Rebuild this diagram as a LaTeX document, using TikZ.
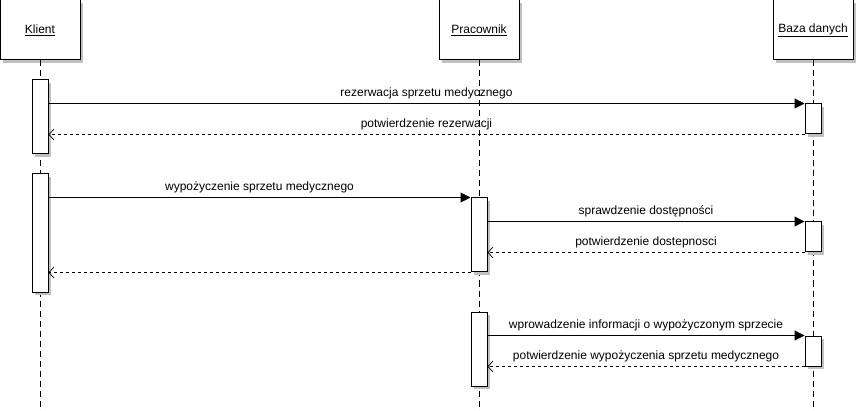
\documentclass[tikz,border=0pt]{standalone}
\usepackage{fontspec}
\setmainfont{Liberation Sans}
\usepackage{tikz}
\usetikzlibrary{arrows.meta, shadows, positioning}
\definecolor{shade}{RGB}{192, 192, 192}

\begin{document}
\begin{tikzpicture}[
    x=1pt, y=-1pt,
    head/.style={
      rectangle, draw=black, fill=white, line width=1pt,
      minimum width=80pt, minimum height=60pt,
      font=\fontsize{12pt}{14pt}\selectfont,
      drop shadow={shadow xshift=3pt, shadow yshift=-3pt, fill=shade, opacity=1}
    },
    act/.style={
      rectangle, draw=black, fill=white, line width=1pt,
      minimum width=16pt, inner sep=0pt,
      drop shadow={shadow xshift=3pt, shadow yshift=-3pt, fill=shade, opacity=1}
    },
    life/.style={dash pattern=on 6pt off 4pt, line width=1pt},
    msg/.style={-{Triangle[length=10pt, width=10pt]}, line width=1pt},
    ret/.style={-{Straight Barb[length=5pt, width=11pt, line width=0.7pt]},
      dash pattern=on 3pt off 3pt, line width=1pt},
    lbl/.style={font=\fontsize{12pt}{14pt}\selectfont, midway, above=1pt}
  ]

  \useasboundingbox (0,0) rectangle (858,411);

  % ── Participants ───────────────────────────────────────────────
  \node[head] (klient)    at (40,  30) {\underline{Klient}};
  \node[head] (pracownik) at (479, 30) {\underline{Pracownik}};
  \node[head] (baza)      at (813, 30) {\underline{Baza danych}};

  % ── Lifelines ──────────────────────────────────────────────────
  \coordinate (kend) at (40,  411);
  \coordinate (pend) at (479, 411);
  \coordinate (bend) at (813, 411);
  \draw[life] (klient.south)    -- (kend);
  \draw[life] (pracownik.south) -- (pend);
  \draw[life] (baza.south)      -- (bend);

  % ── Activations ────────────────────────────────────────────────
  \node[act, minimum height=74pt]  (kact1) at (40,  117) {};
  \node[act, minimum height=118pt] (kact2) at (40,  233) {};
  \node[act, minimum height=74pt]  (pact1) at (479, 235) {};
  \node[act, minimum height=74pt]  (pact2) at (479, 349) {};
  \node[act, minimum height=30pt]  (bact1) at (813, 119) {};
  \node[act, minimum height=30pt]  (bact2) at (813, 237) {};
  \node[act, minimum height=30pt]  (bact3) at (813, 351) {};

  % ── Reservation ────────────────────────────────────────────────
  \draw[msg] (kact1.east |- bact1.north west) -- (bact1.north west)
    node[lbl]{rezerwacja sprzetu medycznego};
  \draw[ret] (bact1.south west) -- (kact1.east |- bact1.south west)
    node[lbl]{potwierdzenie rezerwacji};

  % ── Lending ────────────────────────────────────────────────────
  \draw[msg] (kact2.east |- pact1.north west) -- (pact1.north west)
    node[lbl]{wypożyczenie sprzetu medycznego};
  \draw[msg] (pact1.east |- bact2.north west) -- (bact2.north west)
    node[lbl]{sprawdzenie dostępności};
  \draw[ret] (bact2.south west) -- (pact1.east |- bact2.south west)
    node[lbl]{potwierdzenie dostepnosci};
  \draw[ret] (pact1.south west) -- (kact2.east |- pact1.south west);

  % ── Record ─────────────────────────────────────────────────────
  \draw[msg] (pact2.east |- bact3.north west) -- (bact3.north west)
    node[lbl]{wprowadzenie informacji o wypożyczonym sprzecie};
  \draw[ret] (bact3.south west) -- (pact2.east |- bact3.south west)
    node[lbl]{potwierdzenie wypożyczenia sprzetu medycznego};

\end{tikzpicture}
\end{document}
